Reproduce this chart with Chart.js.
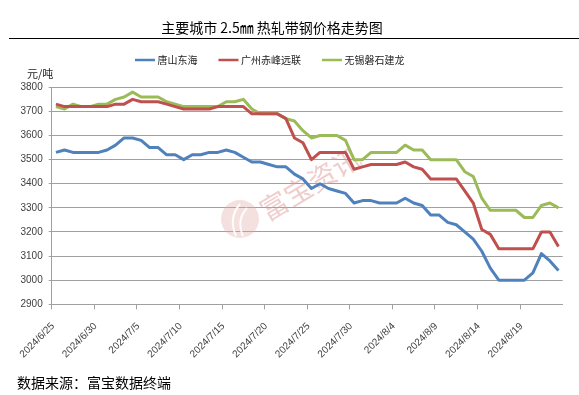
<!DOCTYPE html>
<html><head><meta charset="utf-8">
<script src="https://cdn.jsdelivr.net/npm/chart.js@4.4.1/dist/chart.umd.min.js"></script>
<style>html,body{margin:0;padding:0;background:#fff;} canvas{display:block;}</style>
</head><body>
<canvas id="c" width="579" height="395"></canvas>
<script>
const categories = [
 '2024/6/25','2024/6/26','2024/6/27','2024/6/28','2024/6/29','2024/6/30',
 '2024/7/1','2024/7/2','2024/7/3','2024/7/4','2024/7/5','2024/7/6','2024/7/7','2024/7/8','2024/7/9','2024/7/10',
 '2024/7/11','2024/7/12','2024/7/13','2024/7/14','2024/7/15','2024/7/16','2024/7/17','2024/7/18','2024/7/19','2024/7/20',
 '2024/7/21','2024/7/22','2024/7/23','2024/7/24','2024/7/25','2024/7/26','2024/7/27','2024/7/28','2024/7/29','2024/7/30','2024/7/31',
 '2024/8/1','2024/8/2','2024/8/3','2024/8/4','2024/8/5','2024/8/6','2024/8/7','2024/8/8','2024/8/9','2024/8/10',
 '2024/8/11','2024/8/12','2024/8/13','2024/8/14','2024/8/15','2024/8/16','2024/8/17','2024/8/18','2024/8/19','2024/8/20',
 '2024/8/21','2024/8/22','2024/8/23'
];
const seriesNames = ['唐山东海','广州赤峰远联','无锡磐石建龙'];
const tangshan = [3530,3540,3530,3530,3530,3530,3540,3560,3590,3590,3580,3550,3550,3520,3520,3500,3520,3520,3530,3530,
 3540,3530,3510,3490,3490,3480,3470,3470,3440,3420,3380,3400,3380,3370,3360,3320,3330,3330,3320,3320,
 3320,3340,3320,3310,3270,3270,3240,3230,3200,3170,3120,3050,3000,3000,3000,3000,3030,3110,3080,3040];
const guangzhou = [3730,3720,3720,3720,3720,3720,3720,3730,3730,3750,3740,3740,3740,3730,3720,3710,3710,3710,3710,3720,
 3720,3720,3720,3690,3690,3690,3690,3670,3590,3570,3500,3530,3530,3530,3530,3460,3470,3480,3480,3480,
 3480,3490,3470,3460,3420,3420,3420,3420,3370,3320,3210,3190,3130,3130,3130,3130,3130,3200,3200,3140];
const wuxi = [3720,3710,3730,3720,3720,3730,3730,3750,3760,3780,3760,3760,3760,3740,3730,3720,3720,3720,3720,3720,
 3740,3740,3750,3710,3690,3690,3690,3670,3660,3620,3590,3600,3600,3600,3580,3500,3500,3530,3530,3530,
 3530,3560,3540,3540,3500,3500,3500,3500,3450,3430,3340,3290,3290,3290,3290,3260,3260,3310,3320,3300];
const yMin = 2900, yMax = 3800, yStep = 100;
const labelEvery = 5;
const titleText = '主要城市 2.5㎜ 热轧带钢价格走势图';
const unitText = '元/吨';
const footerText = '数据来源：富宝数据终端';
const watermarkText = '富宝资讯';

const colors = ['#4f81bd','#c0504d','#9bbb59'];
const CJK = '"Noto Sans CJK SC", "Noto Sans", sans-serif';

const decor = {
  id: 'decor',
  beforeDatasetsDraw(chart) {
    const ctx = chart.ctx;
    ctx.save();
    ctx.fillStyle = 'rgba(225,165,165,0.35)';
    ctx.beginPath(); ctx.arc(240, 219, 19, 0, Math.PI * 2); ctx.fill();
    ctx.strokeStyle = 'rgba(255,255,255,0.9)'; ctx.lineWidth = 2;
    ctx.beginPath(); ctx.moveTo(236, 236); ctx.quadraticCurveTo(228, 218, 240, 204); ctx.stroke();
    ctx.beginPath(); ctx.moveTo(243, 236); ctx.quadraticCurveTo(236, 220, 247, 208); ctx.stroke();
    ctx.translate(310, 184);
    ctx.rotate(-31 * Math.PI / 180);
    ctx.font = '28px ' + CJK;
    ctx.fillStyle = 'rgba(225,155,155,0.5)';
    ctx.textAlign = 'center'; ctx.textBaseline = 'middle';
    ctx.fillText(watermarkText, 0, 0);
    ctx.restore();
  },
  afterDraw(chart) {
    const ctx = chart.ctx;
    ctx.save();
    ctx.fillStyle = '#000';
    ctx.font = '14px ' + CJK;
    ctx.textAlign = 'center'; ctx.textBaseline = 'middle';
    ctx.fillText(titleText, 272, 28);
    ctx.strokeStyle = '#000'; ctx.lineWidth = 1;
    ctx.beginPath(); ctx.moveTo(9, 38.5); ctx.lineTo(579, 38.5); ctx.stroke();
    ctx.font = '10px ' + CJK;
    ctx.textAlign = 'left';
    const lineLen = 20, gap = 2.5, itemGap = 21;
    const ds = chart.data.datasets;
    let total = 0;
    const widths = ds.map(d => ctx.measureText(d.label).width);
    widths.forEach((w, i) => { total += lineLen + gap + w + (i < ds.length - 1 ? itemGap : 0); });
    let x = 269.7 - total / 2;
    ds.forEach((d, i) => {
      ctx.strokeStyle = d.borderColor; ctx.lineWidth = 2.5;
      ctx.beginPath(); ctx.moveTo(x, 60); ctx.lineTo(x + lineLen, 60); ctx.stroke();
      ctx.fillStyle = '#222';
      ctx.fillText(d.label, x + lineLen + gap, 60);
      x += lineLen + gap + widths[i] + itemGap;
    });
    ctx.font = '11px ' + CJK;
    ctx.fillStyle = '#222';
    ctx.fillText(unitText, 27, 74);
    ctx.font = '14px ' + CJK;
    ctx.fillStyle = '#000';
    ctx.fillText(footerText, 17, 383);
    ctx.restore();
  }
};

new Chart(document.getElementById('c'), {
  type: 'line',
  data: {
    labels: categories,
    datasets: [tangshan, guangzhou, wuxi].map((vals, i) => ({
      label: seriesNames[i],
      data: vals,
      borderColor: colors[i],
      backgroundColor: colors[i],
      borderWidth: 3,
      pointRadius: 0,
      tension: 0,
      borderJoinStyle: 'round'
    }))
  },
  options: {
    responsive: false,
    devicePixelRatio: 1,
    animation: false,
    layout: { padding: { left: 0, right: 16.3, top: 87.3, bottom: 0 } },
    plugins: { legend: { display: false }, title: { display: false }, tooltip: { enabled: false } },
    scales: {
      x: {
        type: 'category',
        offset: true,
        afterFit(s) { s.height = 395 - 304.3; },
        grid: {
          offset: true,
          drawOnChartArea: false,
          drawTicks: true,
          tickLength: 5,
          color: c => (c.index % labelEvery === 0 || c.index === categories.length) ? '#a0a0a0' : 'rgba(0,0,0,0)'
        },
        border: { display: true, color: '#a0a0a0', width: 1 },
        ticks: {
          autoSkip: false,
          maxRotation: 45, minRotation: 45,
          labelOffset: -3,
          padding: 11,
          color: '#404040',
          font: { family: '"Liberation Sans", Arial, sans-serif', size: 10 },
          callback(v, i) { return i % labelEvery === 0 ? categories[i] : ''; }
        }
      },
      y: {
        min: yMin, max: yMax,
        afterFit(s) { s.width = 51.7; },
        grid: { color: '#a0a0a0', lineWidth: 1, tickLength: 3, drawTicks: true },
        border: { display: true, color: '#a0a0a0', width: 1 },
        ticks: {
          stepSize: yStep,
          padding: 6,
          color: '#404040',
          font: { family: '"Liberation Sans", Arial, sans-serif', size: 10 },
          callback(v) { return String(v); }
        }
      }
    }
  },
  plugins: [decor]
});
</script>
</body></html>
